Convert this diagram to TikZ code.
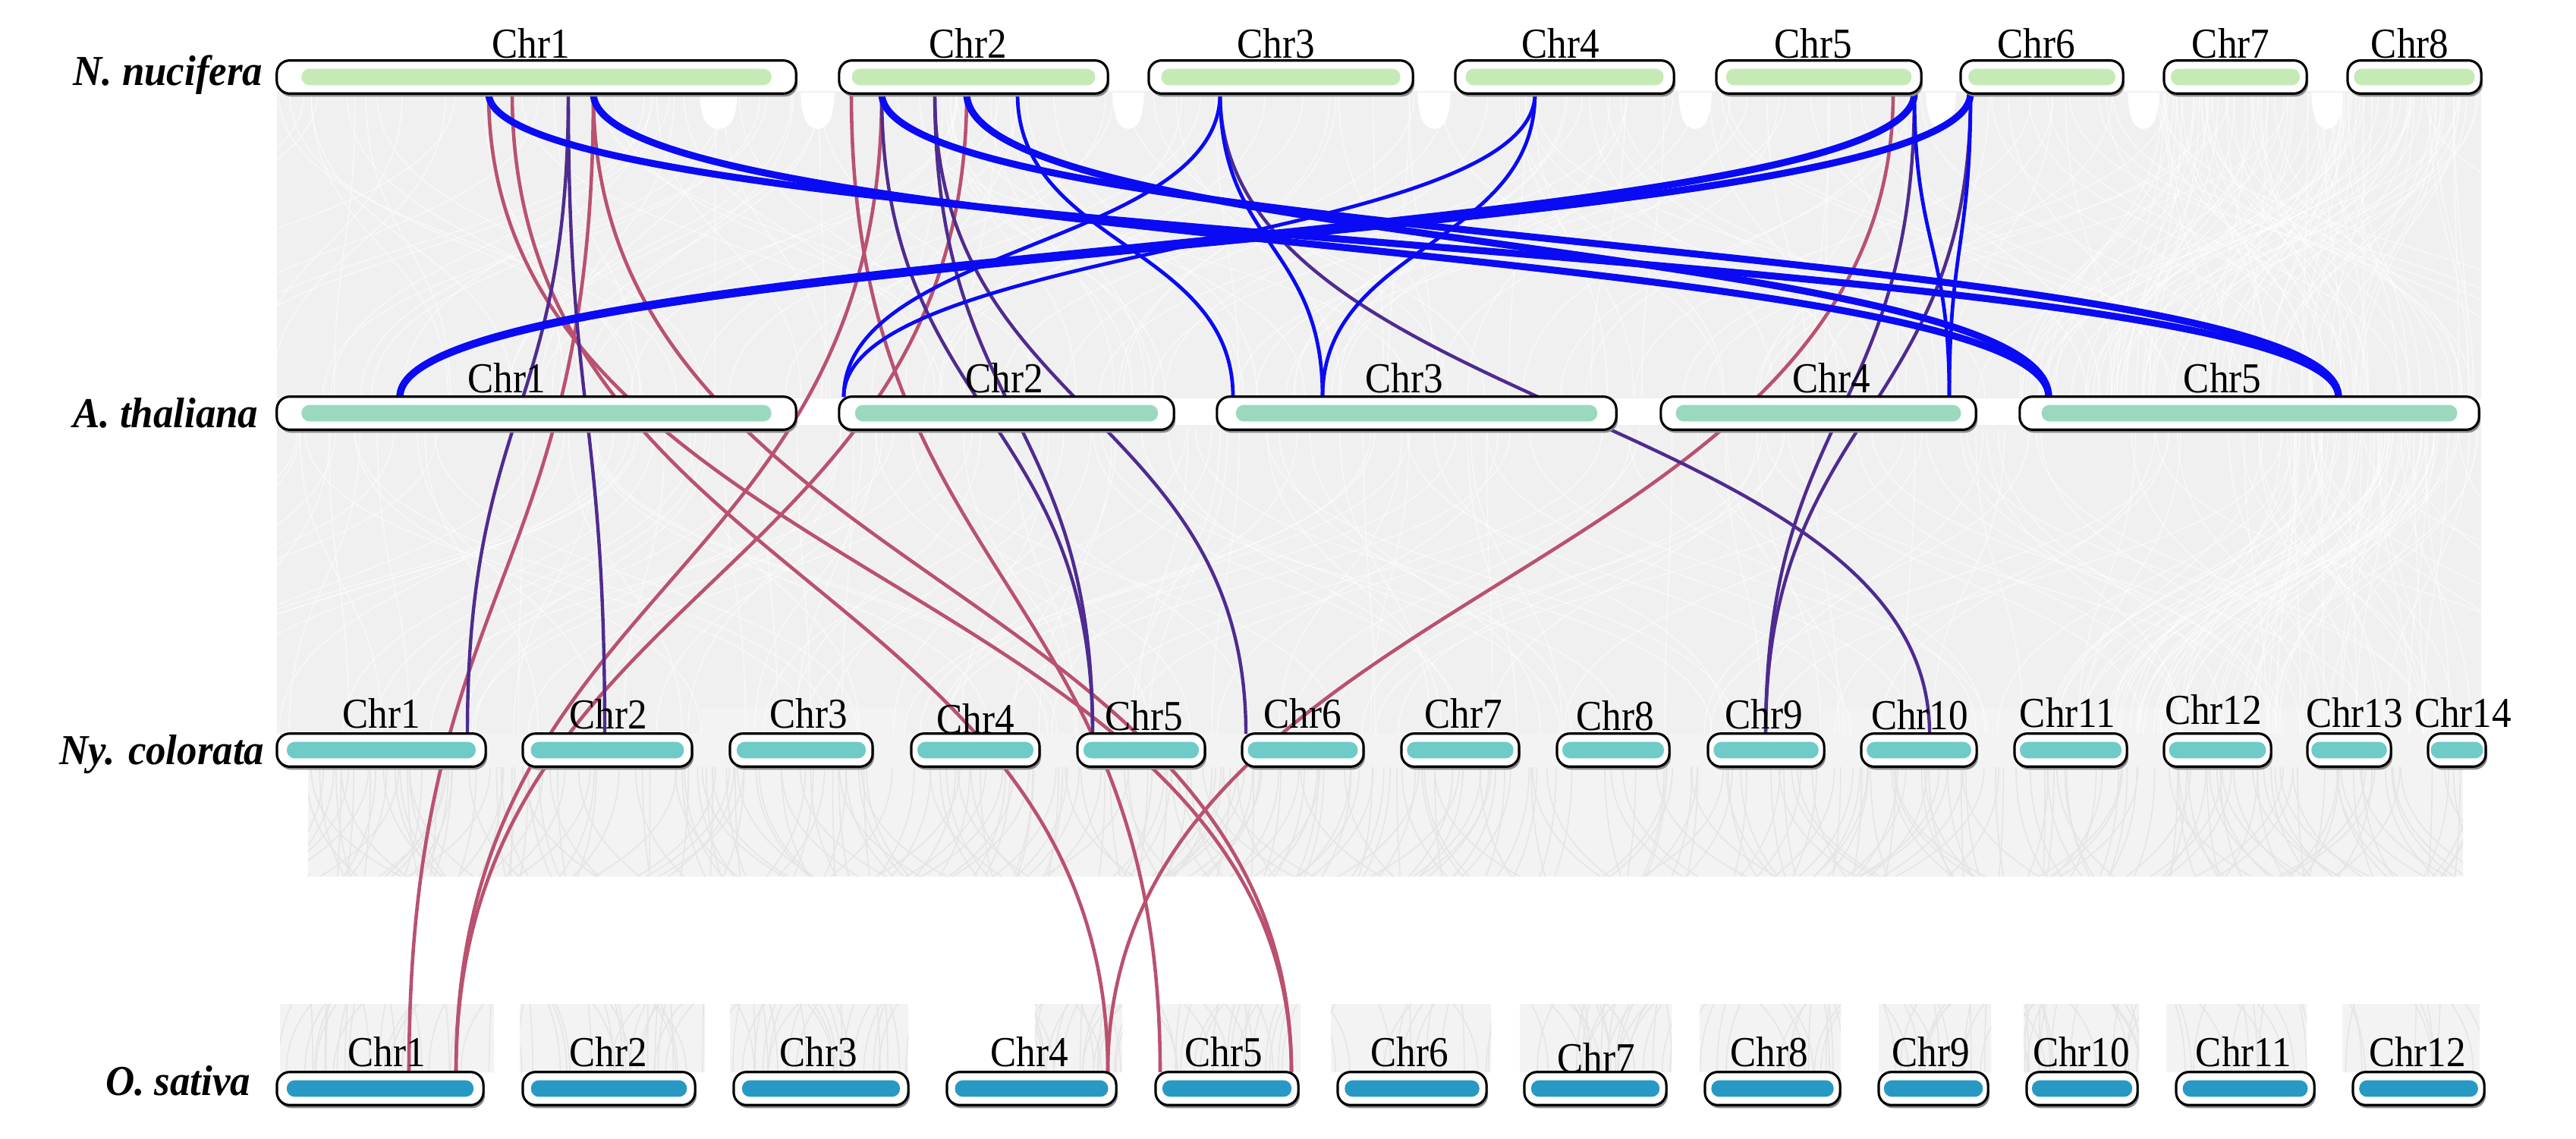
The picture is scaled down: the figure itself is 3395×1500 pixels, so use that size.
\documentclass[tikz,border=0pt]{standalone}
\usepackage{fontspec}
\setmainfont{Liberation Serif}
\usetikzlibrary{calc}
\definecolor{bgray}{HTML}{F0F0F0}
\definecolor{bgraylt}{HTML}{F3F3F3}
\definecolor{texl}{HTML}{E5E5E5}
\definecolor{lnblue}{HTML}{0A0AF5}
\definecolor{lnpurple}{HTML}{4E2B8F}
\definecolor{lnred}{HTML}{B9516F}
\definecolor{fnuc}{HTML}{C6EAB6}
\definecolor{fara}{HTML}{9AD9BE}
\definecolor{fnyc}{HTML}{6ECBC8}
\definecolor{fosa}{HTML}{2799C4}
\tikzset{
 chr/.style={draw=black, line width=0.9pt, fill=white, rounded corners=4.8pt, minimum height=12.4pt, inner sep=0pt, outer sep=0pt},
 chrsh/.style={fill=black!45, rounded corners=4.8pt, minimum height=12.4pt, inner sep=0pt, outer sep=0pt},
 chrin/.style={rounded corners=3pt, minimum height=6.2pt, inner sep=0pt, outer sep=0pt},
 chrlab/.style={font=\fontsize{16}{19}\selectfont, inner sep=0pt, anchor=base},
 splab/.style={font=\fontsize{16}{19}\selectfont\bfseries\itshape, inner sep=0pt, anchor=base east},
 lblue/.style={draw=lnblue, line width=1.35pt},
 lbluethick/.style={draw=lnblue, line width=2.6pt},
 lpurple/.style={draw=lnpurple, line width=1.25pt},
 lred/.style={draw=lnred, line width=1.3pt},
 texw/.style={draw=white, line width=0.35pt, opacity=0.6},
 texg/.style={draw=texl, line width=0.45pt},
 notch/.style={fill=white},
}
\newcommand\chrom[5]{%
 \pgfmathsetmacro\chX{(#2+#3)/2}%
 \pgfmathsetmacro\chY{#4+21.5}%
 \pgfmathsetmacro\chW{(#3-#2)*0.28453}%
 \pgfmathsetmacro\chI{(#3-#2)*0.905*0.28453}%
 \node[chrsh, minimum width=\chW pt] (#1s) at (\chX+2,\chY+4) {};%
 \node[chr, minimum width=\chW pt] (#1) at (\chX,\chY) {};%
 \node[chrin, fill=#5, minimum width=\chI pt] (#1i) at (\chX,\chY) {};%
}
\newcommand\clab[4]{\node[chrlab] (#1) at (#2,#3) {\scalebox{0.91}[1]{#4}};}
\newcommand\lnk[4]{\draw[#1] (#2) .. controls (#2 |- #4) and (#3 |- #4) .. (#3);}
\newcommand\gapnotch[2]{%
 \pgfmathsetmacro\gC{(#1+#2)/2}%
 \fill[notch] (#1+6,122) .. controls (#1+8,158) and (#1+14,168) .. (\gC,170) .. controls (#2-14,168) and (#2-8,158) .. (#2-6,122) -- cycle;}
\begin{document}
\begin{tikzpicture}[x=0.01cm,y=-0.01cm]
\useasboundingbox (0,0) rectangle (3395,1500);
\fill[white] (0,0) rectangle (3395,1500);
\pgfmathsetseed{11}
% ---- band 1 (N. nucifera - A. thaliana)
\begin{scope}
 \clip (365,120) rectangle (3270,525);
 \fill[bgray] (365,120) rectangle (3270,525);
 \foreach \i in {1,...,150}{
  \pgfmathsetmacro\txa{365+2905*rnd}
  \pgfmathsetmacro\txb{\txa+(rnd-0.5)*1400}
  \draw[texw] (\txa,123) .. controls (\txa,323) and (\txb,323) .. (\txb,523);
 }
 \foreach \i in {1,...,80}{
  \pgfmathsetmacro\txa{2850+420*rnd}
  \pgfmathsetmacro\txb{2660+600*rnd}
  \draw[texw] (\txa,123) .. controls (\txa,323) and (\txb,323) .. (\txb,523);
 }
\end{scope}
\gapnotch{1049}{1106}
\gapnotch{1460}{1514}
\gapnotch{1862}{1918}
\gapnotch{2206}{2262}
\gapnotch{2532}{2584}
\gapnotch{2798}{2852}
\gapnotch{3040}{3094}
\gapnotch{916}{978}
% ---- band 2 (A. thaliana - Ny. colorata)
\begin{scope}
 \clip (365,560) rectangle (3270,967);
 \fill[bgray] (365,560) rectangle (3270,967);
 \fill[bgraylt] (924,933) rectangle (1192,967);
 \fill[bgraylt] (2403,934) rectangle (3276,967);
 \foreach \i in {1,...,150}{
  \pgfmathsetmacro\txa{365+2905*rnd}
  \pgfmathsetmacro\txb{\txa+(rnd-0.5)*1400}
  \draw[texw] (\txa,566) .. controls (\txa,766) and (\txb,766) .. (\txb,967);
 }
 \foreach \i in {1,...,60}{
  \pgfmathsetmacro\txa{2950+320*rnd}
  \pgfmathsetmacro\txb{2700+560*rnd}
  \draw[texw] (\txa,566) .. controls (\txa,766) and (\txb,766) .. (\txb,967);
 }
\end{scope}
% ---- bands 3 and 4 (Ny. colorata - O. sativa)
\begin{scope}
 \clip (406,967) rectangle (3246,1155)
  (369,1323) rectangle (651,1413) (685,1323) rectangle (929,1413)
  (962,1323) rectangle (1197,1413) (1364,1323) rectangle (1479,1413)
  (1527,1323) rectangle (1714,1413) (1754,1323) rectangle (1965,1413)
  (2003,1323) rectangle (2203,1413) (2240,1323) rectangle (2426,1413)
  (2476,1323) rectangle (2624,1413) (2667,1323) rectangle (2819,1413)
  (2855,1323) rectangle (3040,1413) (3087,1323) rectangle (3268,1413);
 \fill[bgraylt] (0,900) rectangle (3395,1500);
 \foreach \i in {1,...,320}{
  \pgfmathsetmacro\txa{365+2911*rnd}
  \pgfmathsetmacro\txb{\txa+(rnd-0.5)*1000}
  \draw[texg] (\txa,1011) .. controls (\txa,1212) and (\txb,1212) .. (\txb,1413);
 }
\end{scope}
% ---- gene positions
\coordinate (mA) at (0,323);
\coordinate (mB) at (0,545);
\coordinate (mC) at (0,768);
\foreach \p in {644,675,749,782,1122,1162,1232,1274,1341,1608,2023,2495,2523,2597}{\coordinate (n\p) at (\p,123);}
\foreach \p in {527,1112,1625,1743,2569,2700,3082}{\coordinate (t\p) at (\p,523);}
\foreach \p in {616,797,1440,1642,2327,2543}{\coordinate (y\p) at (\p,967);}
\foreach \p in {539,601,1460,1529,1702}{\coordinate (o\p) at (\p,1413);}
% ---- red links (N. nucifera - O. sativa)
\lnk{lred}{n644}{o1702}{mC}
\lnk{lred}{n675}{o1460}{mC}
\lnk{lred}{n782}{o539}{mC}
\lnk{lred}{n782}{o1702}{mC}
\lnk{lred}{n1122}{o1529}{mC}
\lnk{lred}{n1162}{o601}{mC}
\lnk{lred}{n1274}{o601}{mC}
\lnk{lred}{n2495}{o1460}{mC}
% ---- purple links (N. nucifera - Ny. colorata)
\lnk{lpurple}{n749}{y616}{mB}
\lnk{lpurple}{n749}{y797}{mB}
\lnk{lpurple}{n1162}{y1440}{mB}
\lnk{lpurple}{n1232}{y1440}{mB}
\lnk{lpurple}{n1232}{y1642}{mB}
\lnk{lpurple}{n1608}{y2543}{mB}
\lnk{lpurple}{n2523}{y2327}{mB}
\lnk{lpurple}{n2597}{y2327}{mB}
% ---- blue links (N. nucifera - A. thaliana)
\lnk{lblue}{n1341}{t1625}{mA}
\lnk{lblue}{n1608}{t1112}{mA}
\lnk{lblue}{n2023}{t1112}{mA}
\lnk{lblue}{n1608}{t1743}{mA}
\lnk{lblue}{n2023}{t1743}{mA}
\lnk{lblue}{n2523}{t2569}{mA}
\lnk{lblue}{n2597}{t2569}{mA}
\lnk{lbluethick}{n644}{t3082}{mA}
\lnk{lbluethick}{n782}{t2700}{mA}
\lnk{lbluethick}{n1162}{t3082}{mA}
\lnk{lbluethick}{n1274}{t2700}{mA}
\lnk{lbluethick}{n2523}{t527}{mA}
\lnk{lbluethick}{n2597}{t527}{mA}
% ---- chromosomes
\chrom{nc1}{365}{1049}{80}{fnuc}
\chrom{nc2}{1106}{1460}{80}{fnuc}
\chrom{nc3}{1514}{1862}{80}{fnuc}
\chrom{nc4}{1918}{2206}{80}{fnuc}
\chrom{nc5}{2262}{2532}{80}{fnuc}
\chrom{nc6}{2584}{2798}{80}{fnuc}
\chrom{nc7}{2852}{3040}{80}{fnuc}
\chrom{nc8}{3094}{3270}{80}{fnuc}
\chrom{ta1}{365}{1049}{523}{fara}
\chrom{ta2}{1106}{1547}{523}{fara}
\chrom{ta3}{1604}{2130}{523}{fara}
\chrom{ta4}{2189}{2604}{523}{fara}
\chrom{ta5}{2662}{3267}{523}{fara}
\chrom{ny1}{365}{640}{967}{fnyc}
\chrom{ny2}{689}{912}{967}{fnyc}
\chrom{ny3}{962}{1150}{967}{fnyc}
\chrom{ny4}{1201}{1370}{967}{fnyc}
\chrom{ny5}{1420}{1588}{967}{fnyc}
\chrom{ny6}{1637}{1797}{967}{fnyc}
\chrom{ny7}{1847}{2002}{967}{fnyc}
\chrom{ny8}{2052}{2200}{967}{fnyc}
\chrom{ny9}{2251}{2404}{967}{fnyc}
\chrom{ny10}{2453}{2605}{967}{fnyc}
\chrom{ny11}{2655}{2803}{967}{fnyc}
\chrom{ny12}{2852}{2993}{967}{fnyc}
\chrom{ny13}{3041}{3151}{967}{fnyc}
\chrom{ny14}{3200}{3276}{967}{fnyc}
\chrom{os1}{365}{637}{1413}{fosa}
\chrom{os2}{689}{916}{1413}{fosa}
\chrom{os3}{967}{1197}{1413}{fosa}
\chrom{os4}{1248}{1471}{1413}{fosa}
\chrom{os5}{1523}{1711}{1413}{fosa}
\chrom{os6}{1763}{1959}{1413}{fosa}
\chrom{os7}{2009}{2196}{1413}{fosa}
\chrom{os8}{2247}{2425}{1413}{fosa}
\chrom{os9}{2476}{2620}{1413}{fosa}
\chrom{os10}{2671}{2817}{1413}{fosa}
\chrom{os11}{2868}{3050}{1413}{fosa}
\chrom{os12}{3101}{3274}{1413}{fosa}
% ---- chromosome labels
\clab{lnc1}{700}{77}{Chr1}
\clab{lnc2}{1276}{77}{Chr2}
\clab{lnc3}{1682}{77}{Chr3}
\clab{lnc4}{2057}{77}{Chr4}
\clab{lnc5}{2390}{77}{Chr5}
\clab{lnc6}{2684}{77}{Chr6}
\clab{lnc7}{2940}{77}{Chr7}
\clab{lnc8}{3176}{77}{Chr8}
\clab{lta1}{668}{517}{Chr1}
\clab{lta2}{1324}{517}{Chr2}
\clab{lta3}{1851}{517}{Chr3}
\clab{lta4}{2414}{517}{Chr4}
\clab{lta5}{2929}{517}{Chr5}
\clab{lny1}{503}{959}{Chr1}
\clab{lny2}{802}{960}{Chr2}
\clab{lny3}{1066}{959}{Chr3}
\clab{lny4}{1286}{966}{Chr4}
\clab{lny5}{1508}{962}{Chr5}
\clab{lny6}{1717}{959}{Chr6}
\clab{lny7}{1929}{959}{Chr7}
\clab{lny8}{2129}{962}{Chr8}
\clab{lny9}{2325}{960}{Chr9}
\clab{lny10}{2530}{961}{Chr10}
\clab{lny11}{2725}{958}{Chr11}
\clab{lny12}{2917}{954}{Chr12}
\clab{lny13}{3103}{958}{Chr13}
\clab{lny14}{3246}{958}{Chr14}
\clab{los1}{510}{1405}{Chr1}
\clab{los2}{802}{1405}{Chr2}
\clab{los3}{1079}{1405}{Chr3}
\clab{los4}{1357}{1405}{Chr4}
\clab{los5}{1613}{1405}{Chr5}
\clab{los6}{1858}{1405}{Chr6}
\clab{los7}{2104}{1413}{Chr7}
\clab{los8}{2332}{1405}{Chr8}
\clab{los9}{2545}{1405}{Chr9}
\clab{los10}{2743}{1405}{Chr10}
\clab{los11}{2957}{1405}{Chr11}
\clab{los12}{3186}{1405}{Chr12}
% ---- species labels
\node[splab] (spN) at (347,113) {\scalebox{0.94}[1]{N. nucifera}};
\node[splab] (spA) at (341,563) {\scalebox{0.94}[1]{A. thaliana}};
\node[splab] (spY) at (349,1007) {\scalebox{0.94}[1]{Ny. colorata}};
\node[splab] (spO) at (331,1443) {\scalebox{0.94}[1]{O. sativa}};
\end{tikzpicture}
\end{document}
